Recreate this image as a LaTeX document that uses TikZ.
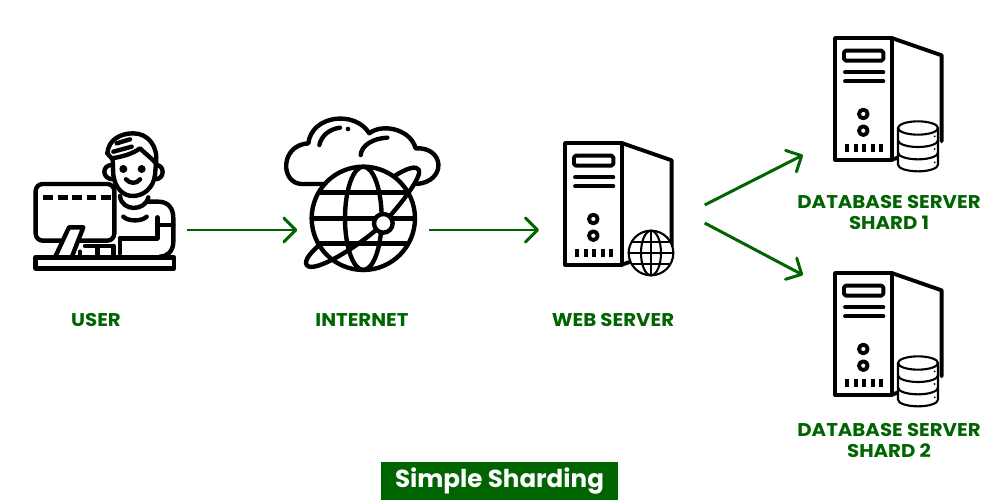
\documentclass[tikz,border=0pt]{standalone}
\usepackage{fontspec}
\setmainfont{Poppins}
\newfontfamily\lblfont[FakeStretch=1.07]{Poppins}
\usetikzlibrary{positioning, arrows.meta, calc}
\definecolor{gfggreen}{HTML}{006400}

\begin{document}
\begin{tikzpicture}[
        x=0.02cm, y=-0.02cm,
        iconbox/.style={rectangle, inner sep=0pt, minimum height=0.1cm},
        lbl/.style={align=center, font=\lblfont\fontsize{10.5}{12.5}\selectfont\bfseries, text=gfggreen, inner sep=0pt},
        titlebox/.style={rectangle, fill=gfggreen, text=white, font=\fontsize{14}{16}\selectfont\bfseries,
          minimum width=4.74cm, minimum height=0.76cm, inner sep=0pt},
        arrow/.style={-{Straight Barb[length=2.4mm,width=4.8mm,line width=1.7pt,round]}, line width=1.7pt, draw=gfggreen},
        ink/.style={line width=2.5pt, line cap=round, line join=round, draw=black},
        towerink/.style={line width=2.2pt, line cap=round, line join=round, draw=black},
        thinink/.style={line width=1.2pt, line cap=round, line join=round, draw=black},
        zoomunit/.style={x=0.00667cm, y=-0.00667cm},
        tower/.pic={
          \begin{scope}[zoomunit]
            \draw[towerink] (0,0) rectangle (170,365);
            \draw[towerink] (170,0) -- (320,52) -- (320,310);
            \draw[towerink] (170,365) -- (200,355);
            \draw[towerink, rounded corners=1pt] (27,38) rectangle (145,68);
            \draw[towerink] (30,103) -- (145,103);
            \draw[towerink] (30,130) -- (145,130);
            \draw[towerink] (85,228) circle (13);
            \draw[towerink] (85,278) circle (13);
            \foreach \tickx in {37,63,88,113,138}
              \draw[towerink, line cap=butt] (\tickx,318) -- (\tickx,342);
          \end{scope}
        },
        globe/.pic={
          \begin{scope}[zoomunit]
            \draw[thinink, fill=white] (0,0) circle (67);
            \draw[thinink] (0,0) ellipse (30 and 67);
            \draw[thinink] (0,-67) -- (0,67);
            \draw[thinink] (-67,0) -- (67,0);
            \draw[thinink] (-56,-33) -- (56,-33);
            \draw[thinink] (-56,33) -- (56,33);
          \end{scope}
        },
        stack/.pic={
          \begin{scope}[zoomunit]
            \draw[thinink, fill=white] (-60,0) -- (-60,110) arc[start angle=180, end angle=360, x radius=60, y radius=-20]
              -- (60,0) arc[start angle=0, end angle=180, x radius=60, y radius=-20] -- cycle;
            \draw[thinink] (-60,0) arc[start angle=180, end angle=360, x radius=60, y radius=-20];
            \draw[thinink] (-60,37) arc[start angle=180, end angle=360, x radius=60, y radius=-20];
            \draw[thinink] (-60,74) arc[start angle=180, end angle=360, x radius=60, y radius=-20];
            \foreach \doty in {25,63,103}
              \fill (50,\doty) circle (3);
          \end{scope}
        }
      ]
        \useasboundingbox (0,0) rectangle (1000,500);

        % invisible holders for the icons
        \node[iconbox, minimum width=3.28cm] (user) at (105,230) {};
        \node[iconbox, minimum width=2.62cm, right=2.2cm of user] (internet) {};
        \node[iconbox, minimum width=3.3cm, right=2.2cm of internet] (web) {};
        \node[iconbox, minimum width=3cm, anchor=west] (db1) at (803,155) {};
        \node[iconbox, minimum width=3cm, anchor=west] (db2) at (803,275) {};
        \coordinate (webup) at ($(web.east)+(0,-25)$);
        \coordinate (webdown) at ($(web.east)+(0,-7)$);

        % user
        \begin{scope}[shift={(20,120)}, zoomunit]
          \draw[ink] (262,100) .. controls (265,60) and (300,40) .. (340,40) .. controls (385,40) and (415,80) .. (408,130);
          \draw[ink] (262,100) -- (275,115) .. controls (310,110) and (340,100) .. (360,85) .. controls (375,100) and (395,115) .. (408,130);
          \draw[ink] (290,70) -- (330,58);
          \draw[ink] (280,95) -- (335,80);
          \draw[ink] (278,120) -- (280,165) .. controls (285,205) and (310,228) .. (338,228) .. controls (370,228) and (400,205) .. (405,165) -- (408,130);
          \draw[ink] (275,135) .. controls (245,135) and (245,178) .. (280,178);
          \draw[ink] (408,135) .. controls (435,135) and (435,178) .. (405,178);
          \fill (310,147) circle (12);
          \fill (365,147) circle (12);
          \draw[ink] (318,178) .. controls (330,192) and (350,192) .. (360,178);
          \draw[ink] (300,228) .. controls (305,275) and (375,275) .. (385,232);
          \draw[ink] (385,245) -- (415,245) .. controls (445,245) and (460,265) .. (460,295) -- (460,365) .. controls (460,395) and (440,410) .. (420,410);
          \draw[ink] (310,290) .. controls (325,305) and (365,305) .. (380,290);
          \draw[ink] (412,292) -- (412,355) -- (300,355);
          \draw[ink] (412,315) -- (460,315);
          \draw[ink] (300,400) -- (300,355);
          \draw[ink, fill=white, rounded corners=4pt] (47,192) rectangle (283,362);
          \draw[ink, line cap=butt, dash pattern=on 5.6pt off 2.6pt] (70,232) -- (275,232);
          \draw[ink, fill=white] (147,322) -- (190,322) -- (155,412) -- (105,412) -- cycle;
          \draw[ink] (195,378) -- (280,378);
          \draw[ink] (232,378) -- (232,410);
          \draw[ink] (180,410) -- (180,395);
          \draw[ink] (280,378) -- (280,410);
          \draw[ink] (47,412) rectangle (462,445);
        \end{scope}

        % internet
        \begin{scope}[shift={(270,105)}, zoomunit]
          \draw[ink] (160,237) -- (95,237) .. controls (30,235) and (30,120) .. (115,115) .. controls (125,30) and (255,15) .. (298,85)
            .. controls (335,55) and (420,70) .. (437,130) .. controls (525,125) and (530,230) .. (440,237);
          \draw[ink] (148,120) .. controls (155,90) and (180,72) .. (210,68);
          \fill (234,72) circle (7);
          \draw[ink] (272,150) .. controls (275,120) and (310,100) .. (352,98);
          \draw[ink] (375,212) .. controls (410,190) and (440,180) .. (447,195) .. controls (455,215) and (400,290) .. (340,355)
            .. controls (280,415) and (130,510) .. (110,480) .. controls (100,465) and (130,435) .. (150,418);
          \draw[ink] (280,340) circle (155);
          \draw[ink] (280,340) ellipse (55 and 155);
          \draw[ink] (150,262) -- (410,262);
          \draw[ink] (125,340) -- (435,340);
          \draw[ink] (150,415) -- (410,415);
          \draw[ink, fill=white] (340,355) circle (28);
        \end{scope}

        % web server
        \pic at (565,143) {tower};
        \pic at (651,253) {globe};

        % database servers
        \pic at (835,38) {tower};
        \pic at (918,128) {stack};
        \pic at (835,273) {tower};
        \pic at (918,363) {stack};

        \draw[arrow] (user) -- (internet);
        \draw[arrow] (internet) -- (web);
        \draw[arrow] (webup) -- (db1.west);
        \draw[arrow] (webdown) -- (db2.west);

        \node[lbl] (userlbl) at (96,320) {USER};
        \node[lbl] (internetlbl) at (362,320) {INTERNET};
        \node[lbl] (weblbl) at (613,320) {WEB SERVER};
        \node[lbl] (db1lbl) at (889,212.5) {DATABASE SERVER\\SHARD 1};
        \node[lbl] (db2lbl) at (889,440.5) {DATABASE SERVER\\SHARD 2};
        \node[titlebox] (title) at (499.5,481) {Simple Sharding};
      \end{tikzpicture}
\end{document}
